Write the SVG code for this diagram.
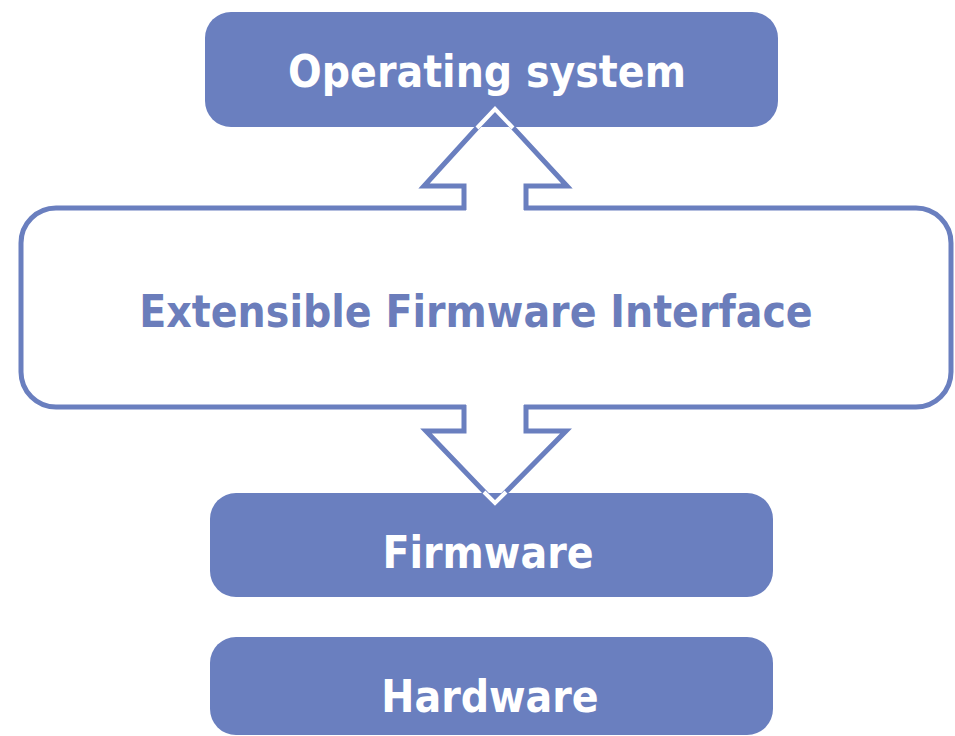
<svg xmlns="http://www.w3.org/2000/svg" width="955" height="736" viewBox="0 0 955 736">
<style>
.box{fill:#6a7fbf;}
.lbl{font-family:"DejaVu Sans Condensed","DejaVu Sans",sans-serif;font-weight:bold;font-size:44px;text-anchor:middle;fill:#ffffff;}
.efi{fill:#ffffff;stroke:#6a7fbf;stroke-width:5;}
.efitxt{font-family:"DejaVu Sans Condensed","DejaVu Sans",sans-serif;font-weight:bold;font-size:44px;text-anchor:middle;fill:#6b7dbb;}
.arrow{fill:#ffffff;stroke:#6a7fbf;stroke-width:5;stroke-linejoin:miter;}
.chev{fill:none;stroke:#ffffff;stroke-width:4;}
</style>
<rect width="955" height="736" fill="#ffffff"/>
<g id="efi">
<rect class="efi" x="21" y="208" width="930" height="199" rx="35"/>
<text class="efitxt" x="476" y="327">Extensible Firmware Interface</text>
</g>
<g id="connectors">
<rect x="466" y="203" width="58" height="10" fill="#ffffff"/>
<polyline class="arrow" points="464,210 464,186 424,186 495,108 567,186 526,186 526,210"/>
<rect x="466" y="402" width="58" height="10" fill="#ffffff"/>
<polyline class="arrow" points="464,405 464,431 426,431 495,503 566,431 526,431 526,405"/>
</g>
<g id="os">
<rect class="box" x="205" y="12" width="573" height="115" rx="26"/>
<text class="lbl" x="487" y="87">Operating system</text>
<polyline class="chev" points="477,128 495,109 513,128"/>
</g>
<g id="firmware">
<rect class="box" x="210" y="493" width="563" height="104" rx="26"/>
<text class="lbl" x="488" y="568">Firmware</text>
<polyline class="chev" points="484,492 495,503 506,492"/>
</g>
<g id="hardware">
<rect class="box" x="210" y="637" width="563" height="98" rx="26"/>
<text class="lbl" x="490" y="712">Hardware</text>
</g>
</svg>
